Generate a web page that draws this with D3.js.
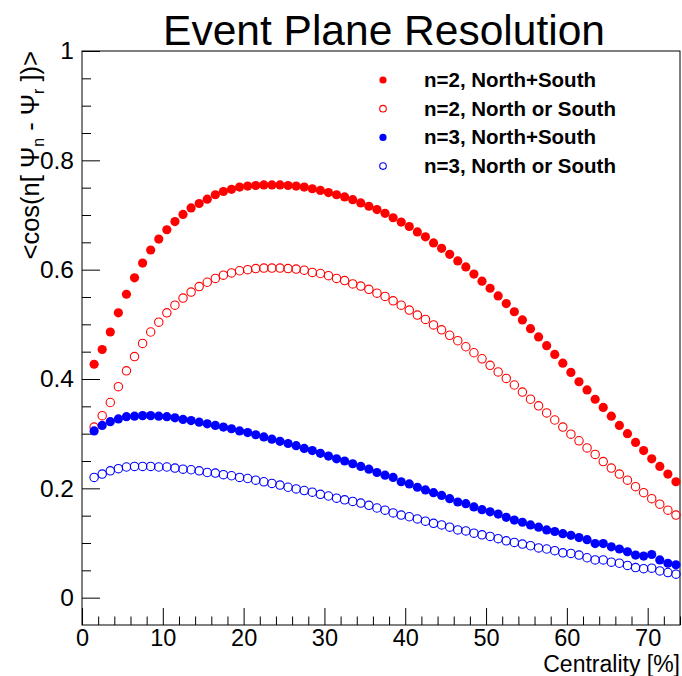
<!DOCTYPE html>
<html>
<head>
<meta charset="utf-8">
<script src="https://cdn.jsdelivr.net/npm/d3@7"></script>
<style>
  body { margin: 0; background: #fff; }
  text { font-family: "Liberation Sans", Helvetica, Arial, sans-serif; }
</style>
</head>
<body>
<script>
// centrality bin centres (%)
var centrality = [];
for (var k = 1; k <= 73; k++) centrality.push(k + 0.5);

// n=2, North+South
var n2NS = [0.427, 0.454, 0.486, 0.521, 0.555, 0.585, 0.612, 0.636, 0.656, 0.673,
  0.688, 0.701, 0.713, 0.721, 0.729, 0.737, 0.743, 0.747, 0.751, 0.753,
  0.754, 0.755, 0.755, 0.755, 0.754, 0.753, 0.751, 0.748, 0.745, 0.741,
  0.737, 0.733, 0.728, 0.722, 0.716, 0.710, 0.703, 0.695, 0.687, 0.679,
  0.669, 0.660, 0.649, 0.639, 0.628, 0.616, 0.605, 0.592, 0.579, 0.566,
  0.552, 0.538, 0.523, 0.508, 0.492, 0.477, 0.461, 0.445, 0.429, 0.412,
  0.395, 0.380, 0.363, 0.348, 0.332, 0.315, 0.300, 0.284, 0.269, 0.254,
  0.240, 0.226, 0.212];

// n=2, North or South
var n2NorS = [0.312, 0.333, 0.357, 0.386, 0.415, 0.441, 0.465, 0.486, 0.504, 0.521,
  0.535, 0.548, 0.559, 0.569, 0.577, 0.584, 0.590, 0.594, 0.598, 0.600,
  0.602, 0.603, 0.603, 0.603, 0.602, 0.601, 0.599, 0.595, 0.593, 0.589,
  0.584, 0.580, 0.574, 0.570, 0.564, 0.557, 0.551, 0.543, 0.535, 0.526,
  0.517, 0.509, 0.499, 0.490, 0.480, 0.470, 0.459, 0.448, 0.437, 0.425,
  0.413, 0.401, 0.389, 0.376, 0.363, 0.351, 0.338, 0.325, 0.312, 0.299,
  0.287, 0.274, 0.262, 0.249, 0.237, 0.226, 0.215, 0.203, 0.192, 0.181,
  0.171, 0.160, 0.151];

// n=3, North+South
var n3NS = [0.305, 0.315, 0.322, 0.327, 0.331, 0.332, 0.333, 0.333, 0.332, 0.331,
  0.329, 0.326, 0.324, 0.321, 0.318, 0.315, 0.312, 0.309, 0.305, 0.302,
  0.298, 0.294, 0.290, 0.286, 0.282, 0.278, 0.273, 0.269, 0.264, 0.259,
  0.254, 0.250, 0.245, 0.240, 0.235, 0.229, 0.224, 0.220, 0.212, 0.208,
  0.202, 0.197, 0.192, 0.187, 0.181, 0.175, 0.172, 0.166, 0.161, 0.157,
  0.153, 0.147, 0.142, 0.138, 0.133, 0.129, 0.124, 0.121, 0.117, 0.114,
  0.110, 0.106, 0.099, 0.099, 0.093, 0.089, 0.084, 0.078, 0.076, 0.079,
  0.069, 0.063, 0.060];

// n=3, North or South
var n3NorS = [0.220, 0.226, 0.232, 0.236, 0.239, 0.240, 0.240, 0.240, 0.239, 0.239,
  0.237, 0.235, 0.234, 0.232, 0.229, 0.228, 0.225, 0.223, 0.220, 0.218,
  0.215, 0.212, 0.209, 0.206, 0.202, 0.199, 0.196, 0.193, 0.189, 0.186,
  0.182, 0.179, 0.176, 0.173, 0.169, 0.164, 0.160, 0.155, 0.151, 0.148,
  0.144, 0.140, 0.136, 0.133, 0.129, 0.124, 0.122, 0.118, 0.115, 0.112,
  0.108, 0.104, 0.101, 0.098, 0.095, 0.091, 0.089, 0.086, 0.082, 0.081,
  0.078, 0.073, 0.069, 0.069, 0.065, 0.063, 0.059, 0.055, 0.053, 0.054,
  0.049, 0.046, 0.043];

var seriesNames = ["n=2, North+South", "n=2, North or South", "n=3, North+South", "n=3, North or South"];
var seriesColors = ["#ff0000", "#ff0000", "#0000ff", "#0000ff"];
var seriesFilled = [true, false, true, false];
var seriesValues = [n2NS, n2NorS, n3NS, n3NorS];

var xMajor = [0, 10, 20, 30, 40, 50, 60, 70];
var yMajor = [0, 0.2, 0.4, 0.6, 0.8, 1];

var W = 682, H = 676;
// frame edges (note: "top" is reserved on window)
var fLeft = 82, fRight = 680, fTop = 51, fBottom = 625;

var svg = d3.select("body").append("svg")
  .attr("width", W)
  .attr("height", H);

var x = d3.scaleLinear().domain([0, 74]).range([fLeft, fRight]);
var y = d3.scaleLinear().domain([-0.05, 1]).range([fBottom, fTop]);

// minor ticks
var xMinor = d3.range(0, 74.01, 2).filter(function(d) { return d % 10 !== 0; });
var yMinor = d3.range(0, 1.001, 0.05).filter(function(d) {
  return Math.abs(d * 5 - Math.round(d * 5)) > 1e-6;
});

svg.append("g")
  .attr("transform", "translate(0," + fBottom + ")")
  .call(d3.axisBottom(x).tickValues(xMinor).tickSize(-8.5).tickSizeOuter(0).tickFormat(""));
svg.append("g")
  .attr("transform", "translate(" + fLeft + ",0)")
  .call(d3.axisLeft(y).tickValues(yMinor).tickSize(-9).tickSizeOuter(0).tickFormat(""));

// major ticks with labels
var xAxis = svg.append("g")
  .attr("transform", "translate(0," + fBottom + ")")
  .call(d3.axisBottom(x).tickValues(xMajor).tickSize(-17).tickSizeOuter(0).tickPadding(4)
    .tickFormat(d3.format("d")));
var yAxis = svg.append("g")
  .attr("transform", "translate(" + fLeft + ",0)")
  .call(d3.axisLeft(y).tickValues(yMajor).tickSize(-18).tickSizeOuter(0).tickPadding(8)
    .tickFormat(function(d) { return (d === 0 || d === 1) ? String(d) : d.toFixed(1); }));

svg.selectAll(".domain").remove();
svg.selectAll(".tick line").attr("stroke", "#000").attr("stroke-width", 1);
xAxis.selectAll("text").attr("font-size", 23.5).attr("fill", "#000")
  .attr("font-family", "'Liberation Sans', Helvetica, Arial, sans-serif");
yAxis.selectAll("text").attr("font-size", 24.5).attr("fill", "#000")
  .attr("font-family", "'Liberation Sans', Helvetica, Arial, sans-serif");

// frame
svg.append("rect")
  .attr("x", fLeft).attr("y", fTop)
  .attr("width", fRight - fLeft).attr("height", fBottom - fTop)
  .attr("fill", "none").attr("stroke", "#000").attr("stroke-width", 1);

// points
for (var s = 0; s < seriesValues.length; s++) {
  var pts = seriesValues[s].map(function(v, i) { return {x: centrality[i], y: v}; });
  svg.append("g").selectAll("circle")
    .data(pts)
    .enter()
    .append("circle")
    .attr("cx", function(d) { return x(d.x); })
    .attr("cy", function(d) { return y(d.y); })
    .attr("r", seriesFilled[s] ? 4.6 : 4.2)
    .attr("fill", seriesFilled[s] ? seriesColors[s] : "none")
    .attr("stroke", seriesFilled[s] ? "none" : seriesColors[s])
    .attr("stroke-width", 1.1);
}

// legend
var legend = svg.append("g");
for (var s = 0; s < seriesNames.length; s++) {
  var ly = 80 + s * 28.7;
  legend.append("circle")
    .attr("cx", 383).attr("cy", ly)
    .attr("r", seriesFilled[s] ? 3.6 : 3.3)
    .attr("fill", seriesFilled[s] ? seriesColors[s] : "none")
    .attr("stroke", seriesFilled[s] ? "none" : seriesColors[s])
    .attr("stroke-width", 1.1);
  legend.append("text")
    .attr("x", 424).attr("y", ly + 7)
    .attr("font-size", 20.5).attr("font-weight", "bold")
    .text(seriesNames[s]);
}

// title
svg.append("text")
  .attr("x", 384).attr("y", 45)
  .attr("text-anchor", "middle")
  .attr("font-size", 42.5)
  .text("Event Plane Resolution");

// x title
svg.append("text")
  .attr("x", fRight).attr("y", 672)
  .attr("text-anchor", "end")
  .attr("font-size", 23)
  .text("Centrality [%]");

// y title
var yt = svg.append("text")
  .attr("transform", "translate(39," + fTop + ") rotate(-90)")
  .attr("text-anchor", "end")
  .attr("font-size", 25.5);
yt.append("tspan").text("<cos(n[ \u03A8");
yt.append("tspan").attr("font-size", 16).attr("dy", 5).text("n");
yt.append("tspan").attr("dy", -5).text(" - \u03A8");
yt.append("tspan").attr("font-size", 16).attr("dy", 5).text("r");
yt.append("tspan").attr("dy", -5).text(" ])>");
</script>
</body>
</html>
